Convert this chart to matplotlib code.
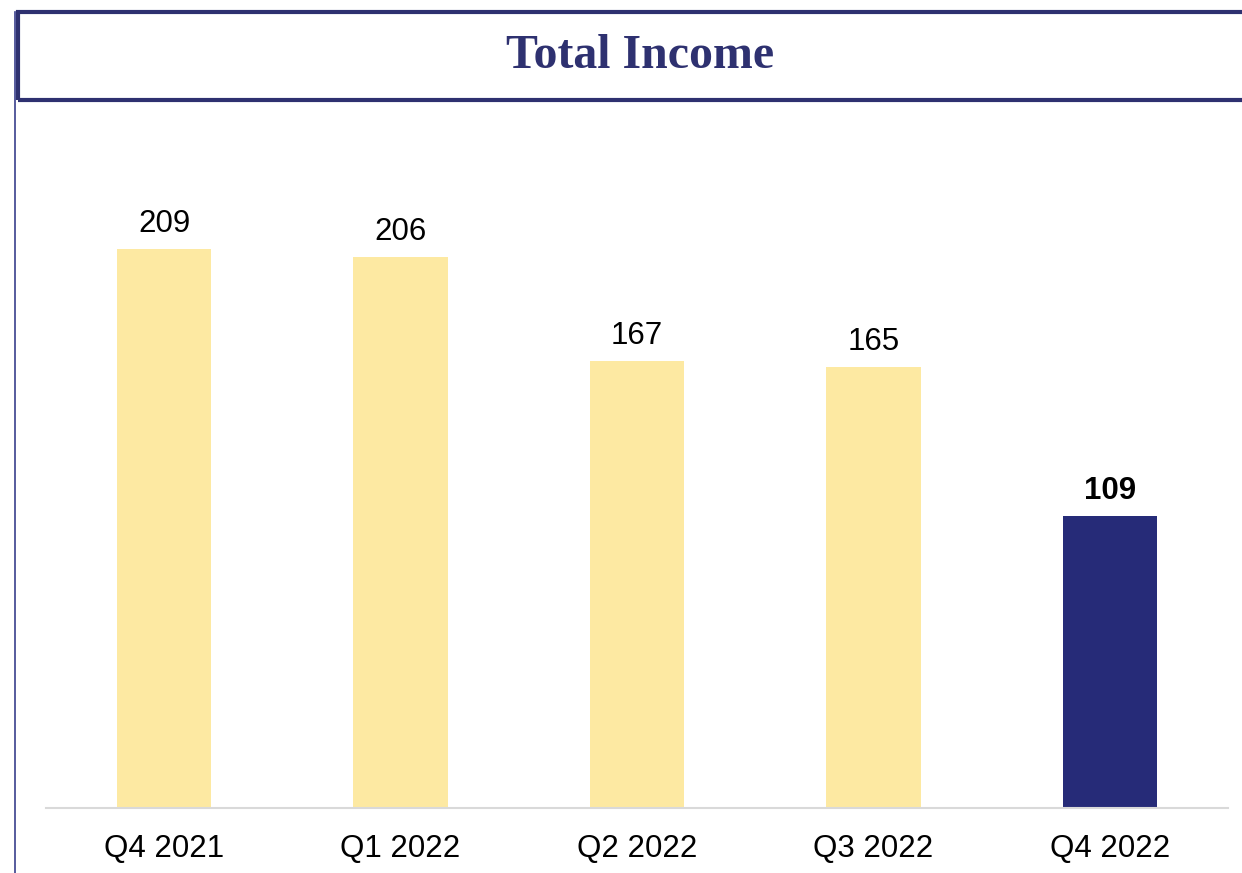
import matplotlib
matplotlib.use("Agg")
import matplotlib.pyplot as plt
from matplotlib.patches import Rectangle
from matplotlib.lines import Line2D

categories = ["Q4 2021", "Q1 2022", "Q2 2022", "Q3 2022", "Q4 2022"]
values = [209, 206, 167, 165, 109]
highlight = [False, False, False, False, True]

W, H = 1242, 873
fig = plt.figure(figsize=(W / 100, H / 100), dpi=100)
fig.patch.set_facecolor("white")

navy = "#262B78"
yellow = "#FDE9A2"
title_col = "#2E3170"

def fx(px):
    return px / W

def fy(py):
    return 1 - py / H

# Left vertical rule
fig.add_artist(Line2D([fx(14.5), fx(14.5)], [fy(12), fy(873)], color="#3A3F8C", lw=1.2,
                      transform=fig.transFigure))
# Title box
fig.add_artist(Rectangle((fx(18), fy(100)), fx(1260) - fx(18), fy(12.5) - fy(100),
                         transform=fig.transFigure, fill=False, edgecolor=title_col, lw=3.0))
fig.text(fx(640), fy(56), "Total Income", ha="center", va="center",
         fontsize=34.5, fontweight="bold", family="Liberation Serif", color=title_col)

ax = fig.add_axes([fx(46), fy(808), fx(1228) - fx(46), fy(110) - fy(808)])
x = list(range(len(categories)))
colors = [navy if h else yellow for h in highlight]
bars = ax.bar(x, values, width=0.4, color=colors, zorder=2)
ax.set_xlim(-0.5, len(categories) - 0.5)
ax.set_ylim(0, 261)

for xi, v, h in zip(x, values, highlight):
    ax.annotate(str(v), (xi, v), xytext=(0, 10), textcoords="offset pixels",
                ha="center", va="bottom", fontsize=22.5,
                fontweight="bold" if h else "normal", family="Liberation Sans", color="black")

ax.set_xticks(x)
ax.set_xticklabels(categories, fontsize=22.5, family="Liberation Sans", color="black")
ax.tick_params(axis="x", length=0, pad=19)
ax.set_yticks([])
for s in ["left", "right", "top"]:
    ax.spines[s].set_visible(False)
ax.spines["bottom"].set_color("#D9D9D9")
ax.spines["bottom"].set_linewidth(1.5)
ax.set_facecolor("none")

fig.savefig("out.png", dpi=100, facecolor="white")
